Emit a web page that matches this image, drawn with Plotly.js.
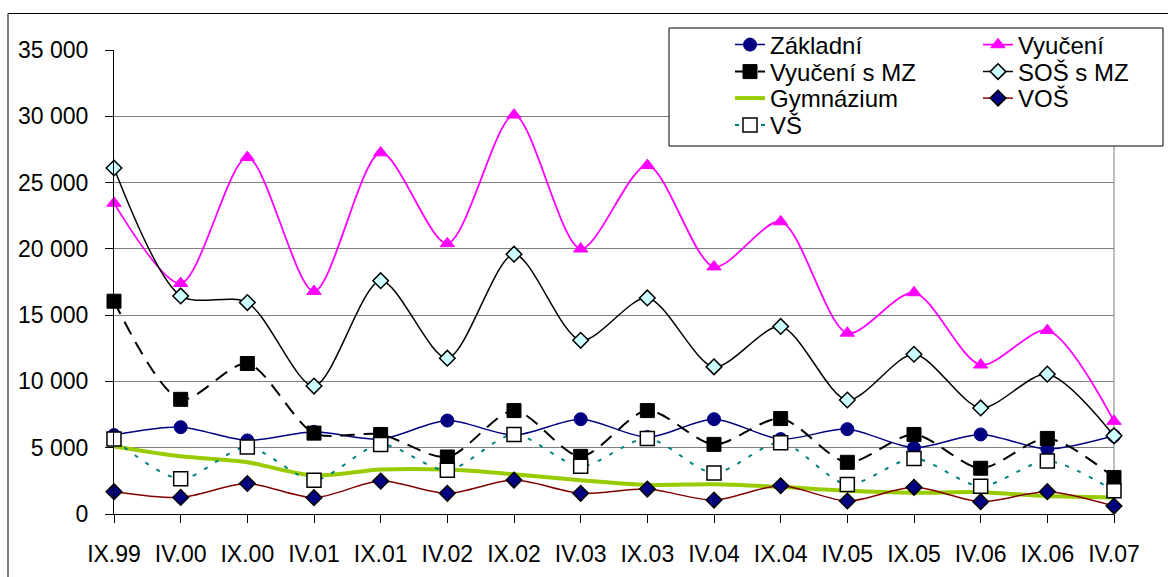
<!DOCTYPE html>
<html>
<head>
<meta charset="utf-8">
<script src="https://cdn.plot.ly/plotly-3.0.1.min.js"></script>
<style>html,body{margin:0;padding:0;background:#fff;}#chart{width:1168px;height:577px;}</style>
</head>
<body>
<div id="chart"></div>
<script>
const categories = ['IX.99','IV.00','IX.00','IV.01','IX.01','IV.02','IX.02','IV.03','IX.03','IV.04','IX.04','IV.05','IX.05','IV.06','IX.06','IV.07'];
const zakladni   = [5950, 6550, 5550, 6200, 5650, 7050, 5950, 7150, 5800, 7150, 5650, 6400, 5000, 6000, 4900, 5900];
const vyuceni    = [23450, 17400, 26900, 16800, 27250, 20400, 30100, 20000, 26300, 18650, 22050, 13650, 16700, 11250, 13850, 7000];
const vyuceniMZ  = [16050, 8650, 11350, 6100, 6000, 4300, 7800, 4350, 7800, 5250, 7200, 3900, 6000, 3450, 5700, 2750];
const sosMZ      = [26100, 16450, 15950, 9650, 17600, 11750, 19600, 13100, 16300, 11100, 14150, 8600, 12050, 8000, 10550, 5900];
const gymnazium  = [5100, 4350, 3900, 2900, 3350, 3350, 3000, 2550, 2200, 2250, 2050, 1750, 1600, 1650, 1350, 1250];
const vos        = [1680, 1250, 2300, 1230, 2480, 1560, 2560, 1560, 1880, 1050, 2130, 980, 2010, 930, 1680, 600];
const vs         = [5650, 2650, 5050, 2550, 5250, 3300, 6000, 3600, 5700, 3100, 5380, 2230, 4190, 2100, 4000, 1750];

const FONT = 'Liberation Sans, Arial, sans-serif';
const L = 114, R = 54, T = 50, B = 63;
const W = 1168, H = 577;
const pw = W - L - R, ph = H - T - B;
const px = x => (x - L) / pw;
const py = y => (H - B - y) / ph;

function tr(name, y, line, marker, legend) {
  const t = {
    type: 'scatter', mode: marker ? 'lines+markers' : 'lines',
    name: name, x: categories, y: y,
    line: Object.assign({shape: 'spline', smoothing: 0.8}, line),
    cliponaxis: false, legend: legend
  };
  if (marker) t.marker = marker;
  return t;
}

const traces = [
  tr('Základní', zakladni, {color: '#000080', width: 1.5},
     {symbol: 'circle', size: 13, color: '#000080', line: {color: '#000080', width: 1}}, 'legend'),
  tr('Vyučení', vyuceni, {color: '#FF00FF', width: 1.8},
     {symbol: 'triangle-up', size: 12.5, color: '#FF00FF', line: {color: '#FF00FF', width: 1}}, 'legend2'),
  tr('Vyučení s MZ', vyuceniMZ, {color: '#000000', width: 2, dash: '14px,9px'},
     {symbol: 'square', size: 14, color: '#000000', line: {color: '#000000', width: 1}}, 'legend3'),
  tr('SOŠ s MZ', sosMZ, {color: '#000000', width: 1.5},
     {symbol: 'diamond', size: 12, color: '#CCFFFF', line: {color: '#000000', width: 1.5}}, 'legend4'),
  tr('Gymnázium', gymnazium, {color: '#99CC00', width: 4}, null, 'legend5'),
  tr('VOŠ', vos, {color: '#800000', width: 1.5},
     {symbol: 'diamond', size: 12, color: '#000080', line: {color: '#000000', width: 1.5}}, 'legend6'),
  tr('VŠ', vs, {color: '#008080', width: 2, dash: '4px,9px'},
     {symbol: 'square', size: 14, color: '#FFFFFF', line: {color: '#000000', width: 1.5}}, 'legend7')
];

const colLeft = px(730), colRight = px(978);
const rows = [py(45), py(72), py(98.5), py(125.5)];
function lg(x, y) {
  return {x: x, y: y, xanchor: 'left', yanchor: 'middle', bgcolor: 'rgba(0,0,0,0)',
          borderwidth: 0, font: {family: FONT, size: 24, color: '#000'}};
}

const layout = {
  width: W, height: H,
  margin: {l: L, r: R, t: T, b: B, pad: 0},
  paper_bgcolor: '#fff', plot_bgcolor: '#fff',
  separators: ', ',
  font: {family: FONT, size: 23, color: '#000'},
  showlegend: true,
  legend: lg(colLeft, rows[0]),
  legend2: lg(colRight, rows[0]),
  legend3: lg(colLeft, rows[1]),
  legend4: lg(colRight, rows[1]),
  legend5: lg(colLeft, rows[2]),
  legend6: lg(colRight, rows[2]),
  legend7: lg(colLeft, rows[3]),
  xaxis: {
    type: 'category', range: [0, categories.length - 1],
    showline: true, linecolor: '#000', linewidth: 1,
    ticks: 'outside', ticklen: 8, tickcolor: '#000',
    showgrid: false, zeroline: false, ticklabelstandoff: 11,
    tickfont: {family: FONT, size: 23, color: '#000'}
  },
  yaxis: {
    range: [0, 35000], dtick: 5000, tick0: 0, tickformat: ',',
    showline: true, linecolor: '#000', linewidth: 1,
    ticks: 'outside', ticklen: 8, tickcolor: '#000',
    showgrid: true, gridcolor: '#808080', gridwidth: 1, zeroline: false,
    ticklabelstandoff: 12,
    tickfont: {family: FONT, size: 23, color: '#000'}
  },
  shapes: [
    {type: 'line', xref: 'paper', yref: 'paper', x0: 1, x1: 1, y0: 0, y1: 1,
     line: {color: '#808080', width: 1}, layer: 'below'},
    {type: 'rect', xref: 'paper', yref: 'paper', x0: px(8), x1: px(1180), y0: py(600), y1: py(13.5),
     line: {color: '#000', width: 1}, fillcolor: 'rgba(0,0,0,0)', layer: 'above'},
    {type: 'rect', xref: 'paper', yref: 'paper', x0: px(669), x1: px(1163), y0: py(146), y1: py(28),
     line: {color: '#000', width: 1}, fillcolor: '#fff', layer: 'above'}
  ]
};

Plotly.newPlot('chart', traces, layout, {displayModeBar: false, staticPlot: true});
</script>
</body>
</html>
